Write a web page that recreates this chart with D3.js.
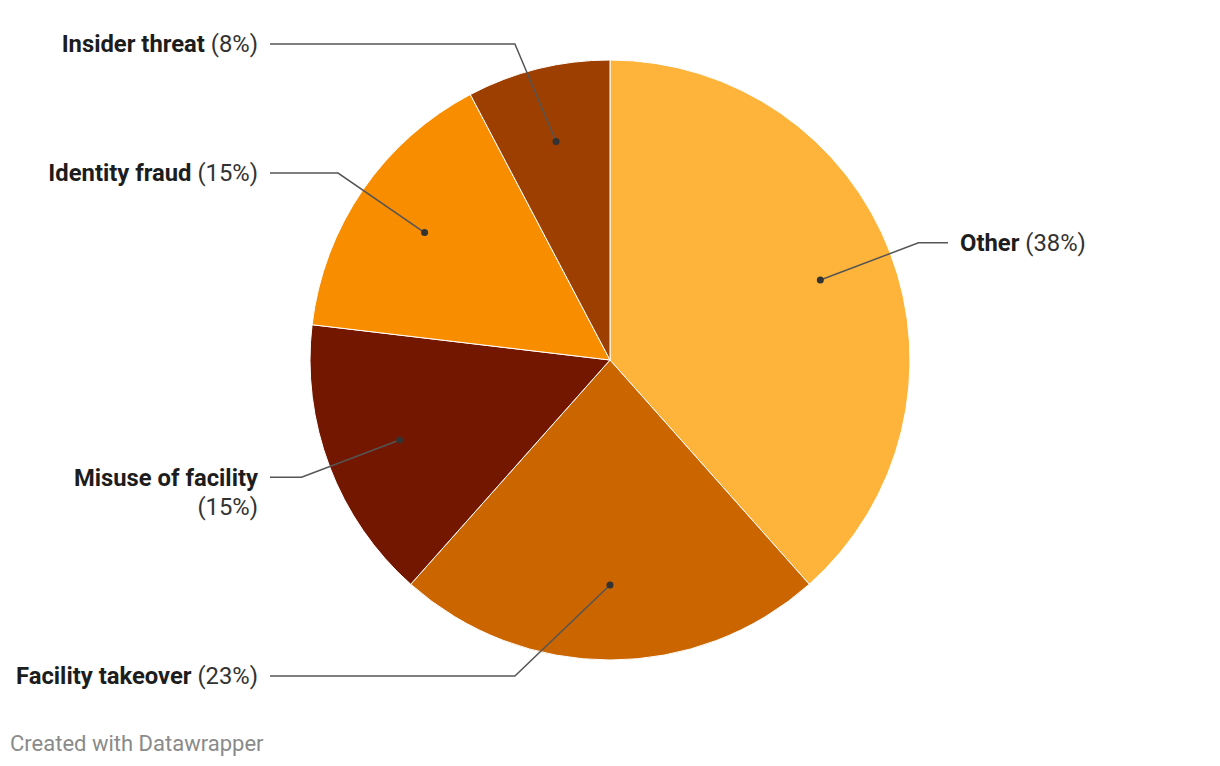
<!DOCTYPE html>
<html>
<head>
<meta charset="utf-8">
<script src="https://cdn.jsdelivr.net/npm/d3@7"></script>
<style>
  html, body { margin: 0; padding: 0; background: #fff; }
  svg { display: block; font-family: Roboto, "Noto Sans", sans-serif; }
</style>
</head>
<body>
<svg id="chart" width="1220" height="766"></svg>
<script>
const categories = ["Other", "Facility takeover", "Misuse of facility", "Identity fraud", "Insider threat"];
const values = [38.4, 23.1, 15.3, 15.4, 7.7];
const percentLabels = ["38%", "23%", "15%", "15%", "8%"];
const colors = ["#FEB43A", "#CA6500", "#741700", "#F98D00", "#9C3F00"];

const W = 1220, H = 766;
const cx = 610, cy = 360, R = 300;
const svg = d3.select("#chart");

const data = categories.map((c, i) => ({ name: c, value: values[i], pct: percentLabels[i], color: colors[i] }));

const pie = d3.pie().value(d => d.value).sort(null);
const arcs = pie(data);
const arc = d3.arc().innerRadius(0).outerRadius(R);
const dotArc = d3.arc().innerRadius(R * 0.75).outerRadius(R * 0.75);

const g = svg.append("g").attr("transform", `translate(${cx},${cy})`);
g.selectAll("path.slice").data(arcs).enter().append("path")
  .attr("class", "slice")
  .attr("d", arc)
  .attr("fill", d => d.data.color)
  .attr("stroke", "#fff")
  .attr("stroke-width", 1);

// label layout
const labelR = 330, maxOff = 316;
const leftX = 258, rightX = 960;
arcs.forEach(d => {
  const mid = (d.startAngle + d.endAngle) / 2;
  const [dx, dy] = dotArc.centroid(d);
  d.dot = [cx + dx, cy + dy];
  d.right = mid < Math.PI - 1e-6;
  let off = -labelR * Math.cos(mid);
  off = Math.max(-maxOff, Math.min(maxOff, off));
  d.ly = cy + off;
  const bdx = Math.sqrt(labelR * labelR - off * off);
  d.bx = d.right ? cx + bdx : cx - bdx;
});

const lines = svg.append("g");
arcs.forEach(d => {
  const x0 = d.right ? rightX - 12 : leftX + 12;
  const pts = [[x0, d.ly], [d.bx, d.ly], d.dot];
  lines.append("path")
    .attr("d", d3.line()(pts))
    .attr("fill", "none")
    .attr("stroke", "#555")
    .attr("stroke-width", 1.5);
  lines.append("circle")
    .attr("cx", d.dot[0]).attr("cy", d.dot[1]).attr("r", 3.5)
    .attr("fill", "#333");
});

const labels = svg.append("g").attr("font-size", 23.8);
arcs.forEach(d => {
  const wrap = d.data.name === "Misuse of facility";
  const t = labels.append("text")
    .attr("x", d.right ? rightX : leftX)
    .attr("y", d.ly)
    .attr("dy", "0.35em")
    .attr("text-anchor", d.right ? "start" : "end");
  t.append("tspan").attr("font-weight", 700).attr("fill", "#1d1d1d").text(d.data.name);
  if (wrap) {
    t.append("tspan").attr("x", d.right ? rightX : leftX).attr("dy", 29)
      .attr("fill", "#333").text("(" + d.data.pct + ")");
  } else {
    t.append("tspan").attr("fill", "#333").text(" (" + d.data.pct + ")");
  }
});

svg.append("text")
  .attr("x", 10).attr("y", 751)
  .attr("font-size", 22)
  .attr("fill", "#8a8a8a")
  .text("Created with Datawrapper");
</script>
</body>
</html>
